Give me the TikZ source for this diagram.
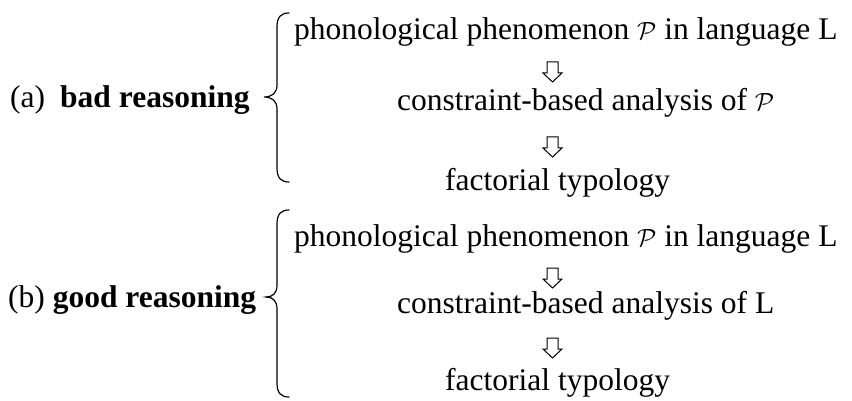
\documentclass[tikz,border=0pt]{standalone}
\usepackage{fontspec}
\setmainfont{Liberation Serif}
\begin{document}
\begin{tikzpicture}[x=1pt,y=-1pt,
  txt/.style={font=\fontsize{31.5}{38}\selectfont, inner sep=0pt, anchor=base west},
  bracepath/.style={line width=1.2pt, line cap=round},
  hollowarrow/.pic={\draw[line width=1pt, line join=miter, fill=white]
      (-5.5,-10) -- (5.5,-10) -- (5.5,1) -- (9.5,1) -- (0,10) -- (-9.5,1) -- (-5.5,1) -- cycle;}
  ]
\useasboundingbox (0,0) rectangle (852,401);
% (a)
\node[txt] (alab) at (10,108) {(a)};
\node[txt] (aname) at (60,108) {\textbf{bad reasoning}};
\node[txt] (a1) at (294,40) {phonological phenomenon $\mathcal{P}$ in language L};
\node[txt] (a2) at (397,111) {constraint-based analysis of $\mathcal{P}$};
\node[txt] (a3) at (445,190) {factorial typology};
\coordinate (ar1) at (552.5,72);
\coordinate (ar2) at (552.5,147);
\pic at (ar1) {hollowarrow};
\pic at (ar2) {hollowarrow};
\draw[bracepath] (289,13) .. controls (281,13) and (277,17) .. (277,27)
  -- (277,85) .. controls (277,93) and (272,97) .. (264,97)
  .. controls (272,97) and (277,101) .. (277,109)
  -- (277,168) .. controls (277,178) and (281,182) .. (289,182);
% (b)
\node[txt] (blab) at (8,307) {(b) \textbf{good reasoning}};
\node[txt] (b1) at (294,246) {phonological phenomenon $\mathcal{P}$ in language L};
\node[txt] (b2) at (397,313) {constraint-based analysis of L};
\node[txt] (b3) at (445,390) {factorial typology};
\coordinate (br1) at (552.5,278);
\coordinate (br2) at (552.5,348);
\pic at (br1) {hollowarrow};
\pic at (br2) {hollowarrow};
\draw[bracepath] (289,210) .. controls (281,210) and (277,214) .. (277,224)
  -- (277,285) .. controls (277,293) and (273,297) .. (266,297)
  .. controls (273,297) and (277,301) .. (277,309)
  -- (277,383) .. controls (277,393) and (281,397) .. (289,397);
\end{tikzpicture}
\end{document}
